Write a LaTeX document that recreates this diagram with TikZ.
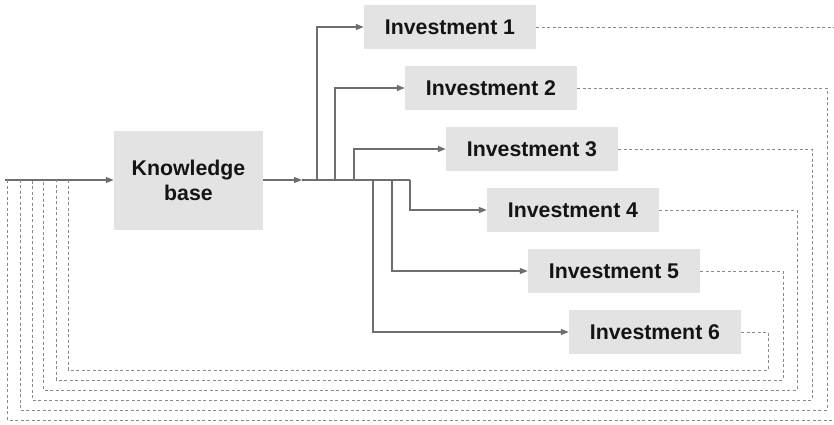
\documentclass[tikz,border=0pt]{standalone}
\usepackage{fontspec}
\setmainfont{Liberation Sans}
\usetikzlibrary{arrows.meta}
\definecolor{boxfill}{HTML}{E3E3E3}
\definecolor{linegray}{HTML}{6E6E6E}
\definecolor{dashgray}{HTML}{8A8A8A}
\begin{document}
\begin{tikzpicture}[x=1pt,y=-1pt,
  box/.style={fill=boxfill,draw=none,inner sep=0pt,
    minimum width=172pt,minimum height=44pt,
    font=\fontsize{21.3}{25}\selectfont\bfseries,text=black!92},
  kbox/.style={fill=boxfill,draw=none,inner sep=0pt,
    minimum width=149pt,minimum height=99pt,align=center,
    font=\fontsize{21.3}{25}\selectfont\bfseries,text=black!92},
  link/.style={draw=linegray,line width=1.3pt},
  arr/.style={link,-{Triangle[length=8pt,width=6pt]}},
  fb/.style={draw=dashgray,line width=1pt,dash pattern=on 3pt off 2.5pt}]
\useasboundingbox (0,0) rectangle (834,424);

% knowledge base and the six investments
\node[kbox] (kb) at (188.5,180) {Knowledge\\base};
\node[box] (inv1) at (450,27)  {Investment 1};
\node[box] (inv2) at (491,88)  {Investment 2};
\node[box] (inv3) at (532,149) {Investment 3};
\node[box] (inv4) at (573,210) {Investment 4};
\node[box] (inv5) at (614,271) {Investment 5};
\node[box] (inv6) at (655,332) {Investment 6};

% input line and output bus
\coordinate (in) at (5,180);
\coordinate (j) at (302,180);
\coordinate (busend) at (410,180);
\draw[arr] (in) -- (kb.west);
\draw[arr] (kb.east) -- (j);
\draw[link] (j) -- (busend);

% branches from the bus to each investment
\coordinate (b1) at (317,180);
\coordinate (b2) at (335,180);
\coordinate (b3) at (354,180);
\coordinate (b6) at (373,180);
\coordinate (b5) at (392,180);
\coordinate (b4) at (410,180);
\draw[arr] (b1) |- (inv1.west);
\draw[arr] (b2) |- (inv2.west);
\draw[arr] (b3) |- (inv3.west);
\draw[arr] (b4) |- (inv4.west);
\draw[arr] (b5) |- (inv5.west);
\draw[arr] (b6) |- (inv6.west);

% dashed feedback loops back to the input line
\coordinate (r1) at (837,420);
\coordinate (r2) at (827,410);
\coordinate (r3) at (812,400);
\coordinate (r4) at (797,390);
\coordinate (r5) at (783,380);
\coordinate (r6) at (768,370);
\coordinate (l1) at (7.5,180);
\coordinate (l2) at (20,180);
\coordinate (l3) at (32,180);
\coordinate (l4) at (43.5,180);
\coordinate (l5) at (56,180);
\coordinate (l6) at (68,180);
\draw[fb] (inv1.east) -| (r1) -| (l1);
\draw[fb] (inv2.east) -| (r2) -| (l2);
\draw[fb] (inv3.east) -| (r3) -| (l3);
\draw[fb] (inv4.east) -| (r4) -| (l4);
\draw[fb] (inv5.east) -| (r5) -| (l5);
\draw[fb] (inv6.east) -| (r6) -| (l6);
\end{tikzpicture}
\end{document}
